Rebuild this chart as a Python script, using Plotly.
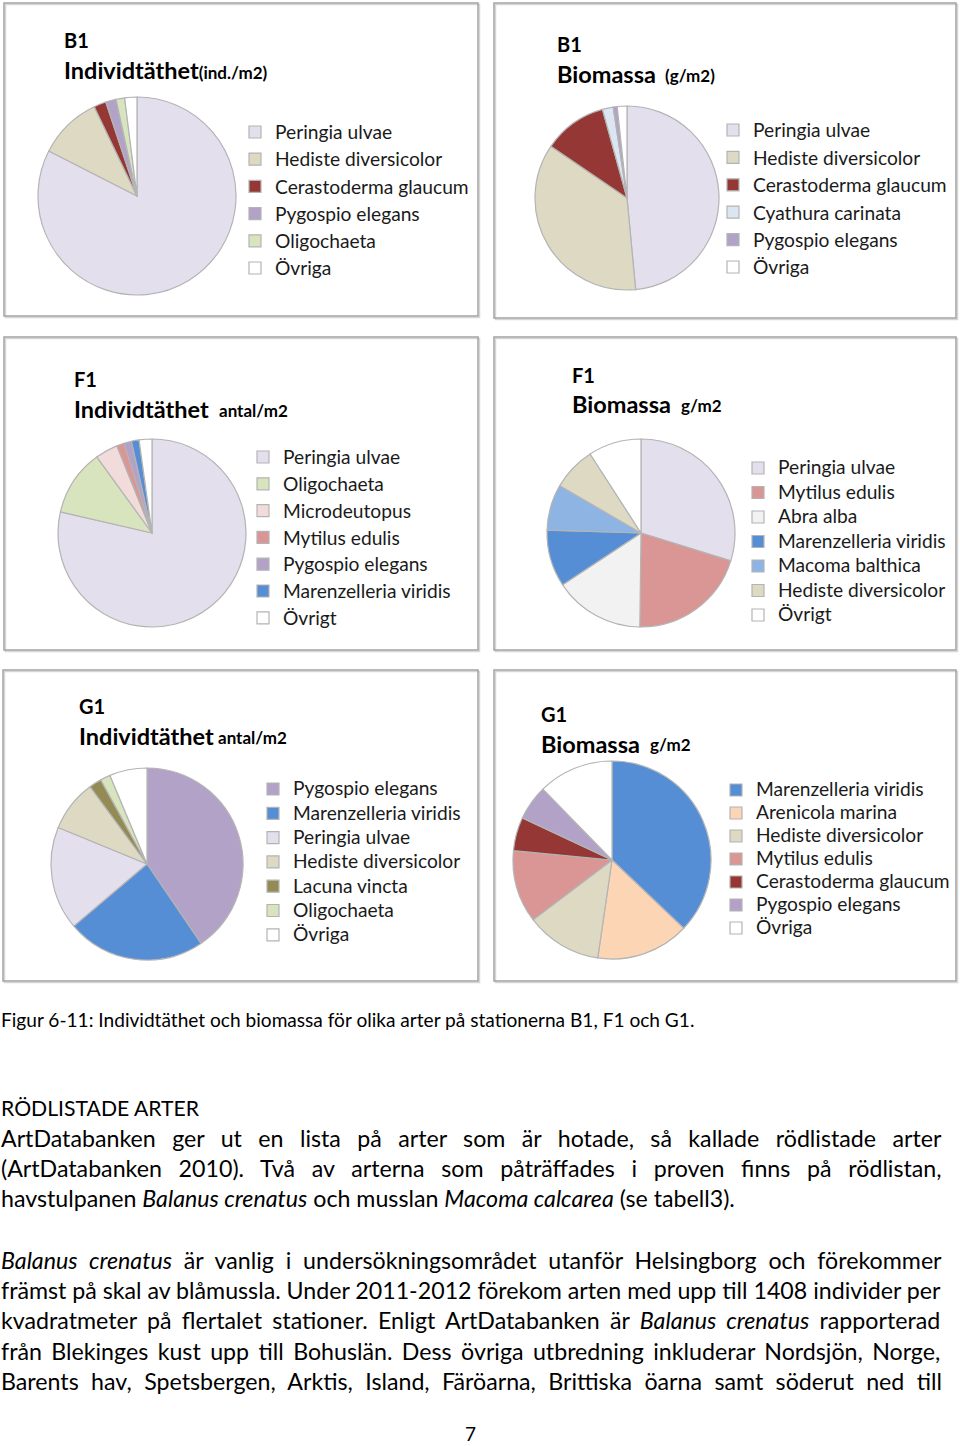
import plotly.graph_objects as go

W, H = 960, 1446

# ---------------- data ----------------
b1_ind_labels = ["Peringia ulvae", "Hediste diversicolor", "Cerastoderma glaucum",
                 "Pygospio elegans", "Oligochaeta", "Övriga"]
b1_ind_values = [82.5, 10.4, 2.0, 1.7, 1.4, 2.0]

b1_bio_labels = ["Peringia ulvae", "Hediste diversicolor", "Cerastoderma glaucum",
                 "Cyathura carinata", "Pygospio elegans", "Övriga"]
b1_bio_values = [48.5, 36.0, 11.2, 1.9, 0.7, 1.7]

f1_ind_labels = ["Peringia ulvae", "Oligochaeta", "Microdeutopus", "Mytilus edulis",
                 "Pygospio elegans", "Marenzelleria viridis", "Övrigt"]
f1_ind_values = [78.6, 11.4, 3.9, 1.3, 1.3, 1.3, 2.2]

f1_bio_labels = ["Peringia ulvae", "Mytilus edulis", "Abra alba", "Marenzelleria viridis",
                 "Macoma balthica", "Hediste diversicolor", "Övrigt"]
f1_bio_values = [29.8, 20.4, 15.5, 9.8, 7.9, 7.5, 9.1]

g1_ind_labels = ["Pygospio elegans", "Marenzelleria viridis", "Peringia ulvae",
                 "Hediste diversicolor", "Lacuna vincta", "Oligochaeta", "Övriga"]
g1_ind_values = [40.5, 23.3, 17.4, 8.7, 2.1, 1.7, 6.3]

g1_bio_labels = ["Marenzelleria viridis", "Arenicola marina", "Hediste diversicolor",
                 "Mytilus edulis", "Cerastoderma glaucum", "Pygospio elegans", "Övriga"]
g1_bio_values = [37.1, 15.2, 12.4, 11.8, 5.5, 5.7, 12.3]

species_colors = {
    "Peringia ulvae": "#e4dfec",
    "Hediste diversicolor": "#ddd9c3",
    "Cerastoderma glaucum": "#953735",
    "Pygospio elegans": "#b3a2c7",
    "Oligochaeta": "#d7e4bd",
    "Övriga": "#ffffff",
    "Övrigt": "#ffffff",
    "Cyathura carinata": "#dce6f2",
    "Microdeutopus": "#f2dcdb",
    "Mytilus edulis": "#d99694",
    "Marenzelleria viridis": "#558ed5",
    "Abra alba": "#f2f2f2",
    "Macoma balthica": "#8eb4e3",
    "Lacuna vincta": "#948a54",
    "Arenicola marina": "#fcd5b5",
}

caption = "Figur 6-11: Individtäthet och biomassa för olika arter på stationerna B1, F1 och G1."
heading = "RÖDLISTADE ARTER"
para1 = [
    "ArtDatabanken ger ut en lista på arter som är hotade, så kallade rödlistade arter",
    "(ArtDatabanken 2010). Två av arterna som påträffades i proven finns på rödlistan,",
    "havstulpanen <i>Balanus crenatus</i> och musslan <i>Macoma calcarea</i> (se tabell3).",
]
para2 = [
    "<i>Balanus crenatus</i> är vanlig i undersökningsområdet utanför Helsingborg och förekommer",
    "främst på skal av blåmussla. Under 2011-2012 förekom arten med upp till 1408 individer per",
    "kvadratmeter på flertalet stationer. Enligt ArtDatabanken är <i>Balanus crenatus</i> rapporterad",
    "från Blekinges kust upp till Bohuslän. Dess övriga utbredning inkluderar Nordsjön, Norge,",
    "Barents hav, Spetsbergen, Arktis, Island, Färöarna, Brittiska öarna samt söderut ned till",
]
page_no = "7"

# ---------------- layout helpers ----------------
FONT = "Lato, 'Open Sans', sans-serif"


def px(x):
    return x / W


def py(y):
    return 1 - y / H


# (labels, values, pie centre x, centre y, radius, legend text x, first item y, item step)
panels = [
    (b1_ind_labels, b1_ind_values, 137, 196, 99, 275, 132, 27.2),
    (b1_bio_labels, b1_bio_values, 627, 198, 92, 753, 130, 27.4),
    (f1_ind_labels, f1_ind_values, 152, 533, 94, 283, 457, 26.8),
    (f1_bio_labels, f1_bio_values, 641, 533, 94, 778, 468, 24.5),
    (g1_ind_labels, g1_ind_values, 147, 864, 96, 293, 789, 24.3),
    (g1_bio_labels, g1_bio_values, 612, 860, 99, 756, 790, 23.0),
]

LEG_TXT = 19.2

fig = go.Figure()
layout_legends = {}
for i, (labels, values, cx, cy, r, tx, ly, step) in enumerate(panels):
    lname = "legend" if i == 0 else f"legend{i + 1}"
    fig.add_trace(go.Pie(
        labels=[f"<span style='font-size:{LEG_TXT}px'>{lab}</span>" for lab in labels],
        values=values,
        sort=False,
        direction="clockwise",
        rotation=0,
        textinfo="none",
        hoverinfo="label+percent",
        marker=dict(colors=[species_colors[lab] for lab in labels],
                    line=dict(color="#b4b4b4", width=1.2)),
        domain=dict(x=[px(cx - r), px(cx + r)], y=[py(cy + r), py(cy - r)]),
        legend=lname,
        legendgroup=f"pie{i}",
        showlegend=True,
    ))
    fsize = (step - 3) / 1.3
    layout_legends[lname] = dict(
        x=px(tx - 40), xanchor="left",
        y=py(ly - 5 - step / 2), yanchor="top",
        bgcolor="rgba(0,0,0,0)", borderwidth=0,
        font=dict(family=FONT, size=fsize, color="#1a1a1a"),
        traceorder="normal",
    )

# panel frames
frames = [(4, 3, 478, 316), (494, 3, 956, 318),
          (4, 337, 478, 650), (494, 337, 956, 650),
          (3, 670, 478, 981), (494, 670, 956, 981)]
shapes = []
for (x0, y0, x1, y1) in frames:
    shapes.append(dict(type="rect", xref="paper", yref="paper",
                       x0=px(x0 + 1.5), x1=px(x1 + 1.5), y0=py(y1 + 1.5), y1=py(y0 + 1.5),
                       line=dict(color="#d6d6d6", width=1.5), fillcolor="rgba(0,0,0,0)"))
    shapes.append(dict(type="rect", xref="paper", yref="paper",
                       x0=px(x0), x1=px(x1), y0=py(y1), y1=py(y0),
                       line=dict(color="#a3a3a3", width=1.5), fillcolor="rgba(0,0,0,0)"))

annotations = []


def ann(text, x, y, size, bold=False, anchor="left", family=FONT, wordspace=None):
    if bold:
        text = f"<b>{text}</b>"
    if wordspace:
        text = f"<span style='word-spacing:{wordspace}px'>{text}</span>"
    annotations.append(dict(text=text, xref="paper", yref="paper", x=px(x), y=py(y),
                            xanchor=anchor, yanchor="middle", showarrow=False,
                            font=dict(family=family, size=size, color="#000000"),
                            borderpad=0))


# titles: (station, x, y, line2, x2, y2, unit, unit x)
titles = [
    ("B1", 63, 40, "Individtäthet<span style='font-size:17px'>(ind./m2)</span>", 63, 70, None, None),
    ("B1", 556, 44, "Biomassa", 556, 74, "(g/m2)", 664),
    ("F1", 73, 379, "Individtäthet", 73, 409, "antal/m2", 218),
    ("F1", 571, 375, "Biomassa", 571, 404, "g/m2", 680),
    ("G1", 78, 706, "Individtäthet", 78, 736, "antal/m2", 217),
    ("G1", 540, 714, "Biomassa", 540, 744, "g/m2", 649),
]
for st, x1, y1, main, x2, y2, unit, ux in titles:
    ann(st, x1, y1, 20, bold=True)
    ann(main, x2, y2, 23.5, bold=True)
    if unit:
        ann(unit, ux, y2 + 1, 17, bold=True)

# body text
BODY = 23.2
para1_ws = [10.5, 10.8, None]
para2_ws = [5.9, None, 4.4, 3.5, 6.5]
ann(caption, 0, 1019, 19.1)
ann(heading, 0, 1108, 21.2)
for k, line in enumerate(para1):
    ann(line, 0, 1138 + 30 * k, BODY, wordspace=para1_ws[k])
for k, line in enumerate(para2):
    ann(line, 0, 1260 + 30.2 * k, BODY, wordspace=para2_ws[k])
ann(page_no, 470, 1433, 19, anchor="center")

fig.update_layout(
    width=W, height=H,
    margin=dict(l=0, r=0, t=0, b=0),
    paper_bgcolor="white", plot_bgcolor="white",
    shapes=shapes, annotations=annotations,
    **layout_legends,
)

fig.write_html("out.html", config={"displayModeBar": False},
               post_script="document.body.style.margin='0';")
